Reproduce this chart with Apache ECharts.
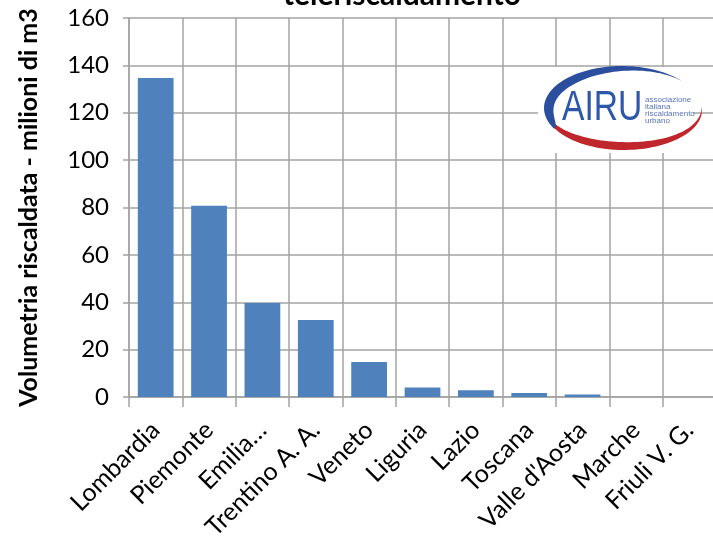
<!DOCTYPE html>
<html>
<head>
<meta charset="utf-8">
<script src="https://cdn.jsdelivr.net/npm/echarts@6/dist/echarts.min.js"></script>
<style>
  html, body { margin: 0; padding: 0; background: #fff; }
  #chart { width: 713px; height: 537px; }
</style>
</head>
<body>
<div id="chart"></div>
<script>
// Heated volume served by district heating, by region (million m3)
const regions = ['Lombardia', 'Piemonte', 'Emilia…', 'Trentino A. A.', 'Veneto', 'Liguria', 'Lazio', 'Toscana', "Valle d'Aosta", 'Marche', 'Friuli V. G.'];
const volumes = [134.7, 80.7, 39.7, 32.5, 14.8, 4.0, 2.8, 1.7, 1.1, 0, 0];
const yMin = 0;
const yMax = 160;
const yStep = 20;

const titleText = 'teleriscaldamento';
const yAxisTitle = 'Volumetria riscaldata - milioni di m3';
const logoWord = 'AIRU';
const logoCaption = 'associazione\nitaliana\nriscaldamento\nurbano';

const gridColor = '#a3a3a3';
const barColor = '#4f81bd';
const fontFamily = 'Lato, "Open Sans", sans-serif';

// Build a tapered swoosh between an outer ellipse and an inner offset ellipse
function swoosh(cx, cy, rx, ry, a0, a1, tmax, p, n) {
  const outer = [], inner = [];
  for (let i = 0; i <= n; i++) {
    const f = i / n;
    const th = (a0 + (a1 - a0) * f) * Math.PI / 180;
    const t = tmax * Math.sin(Math.PI * Math.pow(f, p));
    outer.push([cx + rx * Math.cos(th), cy + ry * Math.sin(th)]);
    inner.push([cx + (rx - t) * Math.cos(th), cy + (ry - t) * Math.sin(th)]);
  }
  return outer.concat(inner.reverse());
}

const chart = echarts.init(document.getElementById('chart'), null, { renderer: 'canvas' });

chart.setOption({
  animation: false,
  backgroundColor: '#ffffff',
  title: {
    text: titleText,
    left: 278,
    top: -25,
    textStyle: { fontFamily: fontFamily, fontSize: 30, fontWeight: 'bold', color: '#000' }
  },
  grid: { left: 129, right: -3, top: 18, bottom: 140, containLabel: false, outerBoundsMode: 'none' },
  xAxis: {
    type: 'category',
    data: regions,
    boundaryGap: true,
    axisLine: { show: true, lineStyle: { color: gridColor, width: 1.5 } },
    axisTick: { show: true, length: 10, lineStyle: { color: gridColor, width: 1.5 } },
    splitLine: { show: true, interval: 0, lineStyle: { color: gridColor, width: 1.5 } },
    axisLabel: {
      interval: 0,
      rotate: 45,
      margin: 29,
      color: '#000',
      fontFamily: fontFamily,
      fontSize: 25
    }
  },
  yAxis: {
    type: 'value',
    min: yMin,
    max: yMax,
    interval: yStep,
    name: yAxisTitle,
    nameLocation: 'middle',
    nameRotate: 90,
    nameGap: 88,
    nameTextStyle: { fontFamily: fontFamily, fontSize: 25, fontWeight: 'bold', color: '#000' },
    axisLine: { show: true, lineStyle: { color: gridColor, width: 1.5 } },
    axisTick: { show: true, length: 6, lineStyle: { color: gridColor, width: 1.5 } },
    splitLine: { show: true, lineStyle: { color: gridColor, width: 1.5 } },
    axisLabel: { margin: 20, color: '#000', fontFamily: fontFamily, fontSize: 24 }
  },
  series: [{
    type: 'bar',
    data: volumes,
    barCategoryGap: '33%',
    itemStyle: { color: barColor }
  }],
  graphic: [
    {
      type: 'rect',
      shape: { x: 538, y: 67, width: 155, height: 86 },
      style: { fill: '#ffffff' },
      z: 100
    },
    {
      type: 'polygon',
      shape: { points: swoosh(624, 110, 78, 40, 170, -5, 8, 0.75, 60) },
      style: { fill: '#c0272d' },
      z: 101
    },
    {
      type: 'polygon',
      shape: { points: swoosh(622, 108, 78, 42, 150, 320, 10, 0.52, 60) },
      style: { fill: '#2b4f9e' },
      z: 102
    },
    {
      type: 'text',
      x: 562,
      y: 108,
      scaleX: 0.8,
      style: {
        text: logoWord,
        fill: '#2d58a8',
        fontFamily: '"Liberation Sans", Arial, sans-serif',
        fontSize: 42,
        verticalAlign: 'middle',
        align: 'left'
      },
      z: 103
    },
    {
      type: 'text',
      x: 645,
      y: 110,
      style: {
        text: logoCaption,
        fill: '#5b73b8',
        fontFamily: '"Liberation Sans", Arial, sans-serif',
        fontSize: 8,
        lineHeight: 7,
        verticalAlign: 'middle',
        align: 'left'
      },
      z: 103
    }
  ]
});
</script>
</body>
</html>
